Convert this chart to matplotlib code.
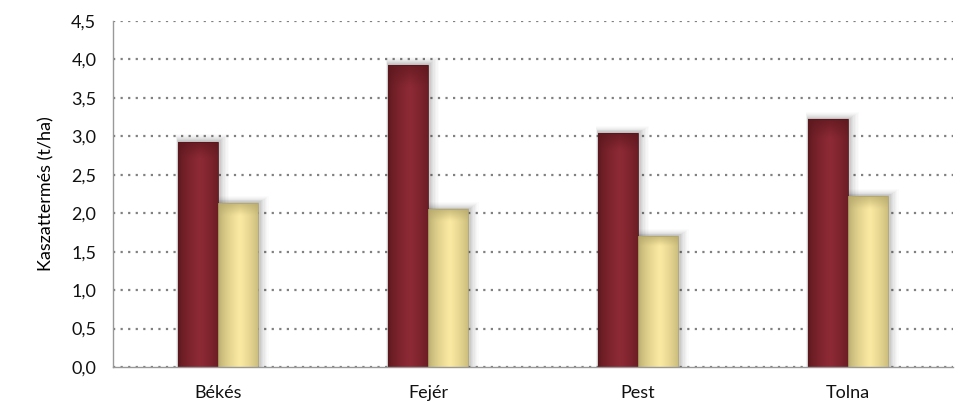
import matplotlib
matplotlib.use("Agg")
import matplotlib.pyplot as plt
import numpy as np
from matplotlib.patches import Rectangle
from matplotlib.colors import to_rgb

plt.rcParams["font.family"] = ["Lato", "DejaVu Sans"]

counties = ["Békés", "Fejér", "Pest", "Tolna"]
series_a = [2.93, 3.93, 3.04, 3.22]   # dark red bars
series_b = [2.13, 2.05, 1.70, 2.22]   # pale yellow bars
yticks = [0.0, 0.5, 1.0, 1.5, 2.0, 2.5, 3.0, 3.5, 4.0, 4.5]
ylabel = "Kaszattermés (t/ha)"

red_edge, red_mid = "#5a171d", "#8e2a35"
yel_edge, yel_mid = "#b3a66a", "#fbeaa2"

fig = plt.figure(figsize=(9.63, 4.05), dpi=100)
ax = fig.add_axes([113 / 963, 38 / 405, 840 / 963, 346 / 405])

bar_w = 0.19
x = np.arange(len(counties))


def shaded_bar(ax, x0, h, edge, mid):
    # soft drop shadow, spreading right and slightly above
    for k, a in zip(range(8, 0, -1), [0.015, 0.02, 0.025, 0.03, 0.035, 0.04, 0.045, 0.05]):
        dx = k * 0.005
        dy = k * 0.012
        ax.add_patch(Rectangle((x0 - dx * 0.3, 0), bar_w + dx * 1.6, h + dy,
                               facecolor="black", alpha=a, edgecolor="none", zorder=2))
    rect = Rectangle((x0, 0), bar_w, h, facecolor="none",
                     edgecolor=edge, linewidth=0.6, zorder=4)
    ax.add_patch(rect)
    # horizontal gradient: dark edges, light middle; darker at top
    t = np.linspace(0, 1, 60)
    hprof = 1 - np.abs(t - 0.55) / 0.55
    hprof = np.clip(hprof, 0, 1) ** 0.6
    vt = np.linspace(0, 1, 80)
    vprof = np.clip(1 - np.clip((vt - 0.93) / 0.07, 0, 1), 0, 1)
    w = hprof[None, :] * (0.35 + 0.65 * vprof[:, None])
    c0 = np.array(to_rgb(edge))
    c1 = np.array(to_rgb(mid))
    img = c0 + (c1 - c0) * w[..., None]
    im = ax.imshow(img, extent=(x0, x0 + bar_w, 0, h), origin="lower",
                   aspect="auto", zorder=3, interpolation="bilinear")
    im.set_clip_path(rect)


for i in range(len(counties)):
    shaded_bar(ax, x[i] - bar_w, series_a[i], red_edge, red_mid)
    shaded_bar(ax, x[i], series_b[i], yel_edge, yel_mid)

ax.set_xlim(-0.5, len(counties) - 0.5)
ax.set_ylim(0, 4.5)
ax.set_yticks(yticks)
ax.set_yticklabels([f"{v:.1f}".replace(".", ",") for v in yticks])
ax.set_xticks(x)
ax.set_xticklabels(counties)
ax.tick_params(axis="both", length=0, labelsize=13, colors="#111111")
ax.tick_params(axis="x", pad=13)
ax.tick_params(axis="y", pad=12)
ax.set_ylabel(ylabel, fontsize=13, labelpad=12)

ax.grid(axis="y", color="#808080", linestyle=(0, (1, 2.4)), linewidth=1.6)
ax.set_axisbelow(True)
for s in ["top", "right"]:
    ax.spines[s].set_visible(False)
for s in ["left", "bottom"]:
    ax.spines[s].set_color("#999999")
    ax.spines[s].set_linewidth(1.0)
ax.spines["left"].set_zorder(5)
ax.spines["bottom"].set_zorder(5)

fig.savefig("out.png", dpi=100)
